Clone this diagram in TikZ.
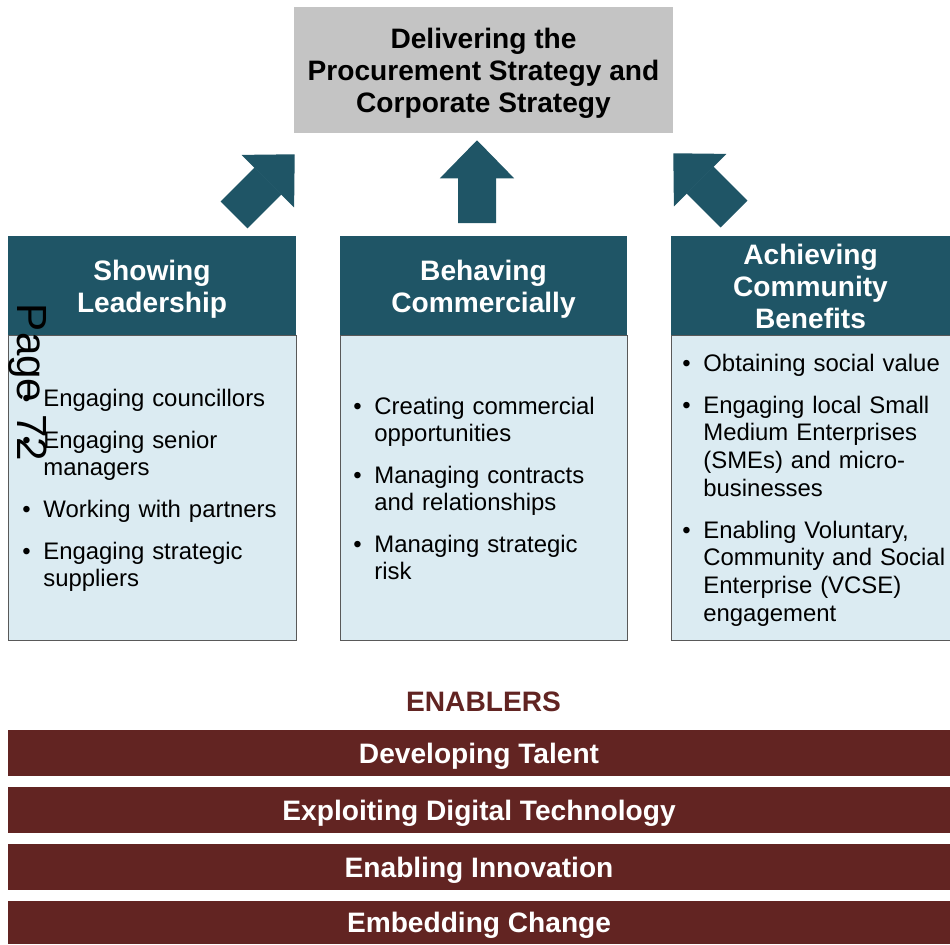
\documentclass[tikz,border=0pt]{standalone}
\usepackage{fontspec}
\setmainfont{Liberation Sans}
\usepackage{xcolor}
\usepackage{tikz}
\usetikzlibrary{positioning, arrows.meta}

\definecolor{headteal}{RGB}{31,85,102}
\definecolor{panelblue}{RGB}{219,235,242}
\definecolor{goalgray}{RGB}{196,196,196}
\definecolor{enablered}{RGB}{98,36,34}

% one bullet point, second line hangs under the text
\newcommand{\bpoint}[1]{\hangindent=15pt\hangafter=1\noindent\makebox[15pt][l]{\textbullet}#1\par}
% extra room above the first line of a centred block
\newcommand{\headroom}[1]{\rule{0pt}{#1}}

\tikzstyle{goal} = [rectangle, minimum width=94.75mm, minimum height=31.5mm, text centered, align=center, fill=goalgray, font=\fontsize{20}{22.8}\selectfont\bfseries]
\tikzstyle{heading} = [rectangle, minimum width=72mm, minimum height=24.75mm, inner sep=0pt, outer sep=0pt, align=center, fill=headteal, text=white, font=\fontsize{20}{22.8}\selectfont\bfseries]
\tikzstyle{panel} = [rectangle, minimum width=72mm, minimum height=76.25mm, inner sep=0pt, outer sep=0pt, fill=panelblue, draw=black!65, line width=0.5pt]
\tikzstyle{points} = [anchor=north west, inner sep=0pt, text width=68mm, align=left, font=\fontsize{17}{19.2}\selectfont\setlength{\parskip}{10.7pt}]
\tikzstyle{enabler} = [rectangle, minimum width=235.5mm, minimum height=11.5mm, inner sep=0pt, outer sep=0pt, text height=14.3pt, text depth=0pt, fill=enablered, text=white, font=\fontsize{20}{24}\selectfont\bfseries]
\tikzstyle{bigarrow} = [draw=headteal, line width=9.5mm, -{Triangle[width=18.5mm, length=9.5mm, line width=1pt]}]

\begin{document}
\begin{tikzpicture}[x=0.25mm, y=-0.25mm]
    \useasboundingbox (0,0) rectangle (950,944);

    % Nodes
    \node (goal) [goal] at (483.5,70) {\headroom{19pt}Delivering the\\Procurement Strategy and\\Corporate Strategy};

    \node (lead-head) [heading, anchor=north west] at (8,236) {\headroom{20.3pt}Showing\\Leadership};
    \node (lead-body) [panel, below=0pt of lead-head] {};
    \node (comm-head) [heading, anchor=north west, minimum width=71.75mm] at (340,236) {\headroom{20.3pt}Behaving\\Commercially};
    \node (comm-body) [panel, below=0pt of comm-head, minimum width=71.75mm] {};
    \node (comb-head) [heading, anchor=north west, minimum width=69.75mm] at (671,236) {\headroom{16pt}Achieving\\Community\\Benefits};
    \node (comb-body) [panel, below=0pt of comb-head, minimum width=69.75mm] {};

    % Bullet lists
    \node (lead-list) [points] at (22,389) {\bpoint{Engaging councillors}\bpoint{Engaging senior\newline managers}\bpoint{Working with partners}\bpoint{Engaging strategic\newline suppliers}};
    \node (comm-list) [points] at (353,397) {\bpoint{Creating commercial\newline opportunities}\bpoint{Managing contracts\newline and relationships}\bpoint{Managing strategic\newline risk}};
    \node (comb-list) [points, text width=66mm, font=\fontsize{17}{19.8}\selectfont\setlength{\parskip}{9.7pt}] at (682,354) {\bpoint{Obtaining social value}\bpoint{Engaging local Small\newline Medium Enterprises\newline (SMEs) and micro-\newline businesses}\bpoint{Enabling Voluntary,\newline Community and Social\newline Enterprise (VCSE)\newline engagement}};

    % Enablers
    \node (enablers) [text=enablered, font=\fontsize{20}{24}\selectfont\bfseries] at (483.5,702) {ENABLERS};
    \node (talent) [enabler, anchor=north west] at (8,730) {Developing Talent};
    \node (digital) [enabler, below=2.75mm of talent] {Exploiting Digital Technology};
    \node (innovation) [enabler, below=2.75mm of digital] {Enabling Innovation};
    \node (change) [enabler, below=2.75mm of innovation, minimum height=10.75mm] {Embedding Change};

    % Arrows
    \draw [bigarrow] ([shift={(-62,-21)}]lead-head.north east) -- ([shift={(1,21)}]goal.south west);
    \draw [bigarrow] ([shift={(-6.5,-13)}]comm-head.north) -- ([shift={(-6.5,7)}]goal.south);
    \draw [bigarrow] ([shift={(63,-22)}]comb-head.north west) -- ([shift={(0,20)}]goal.south east);

    % page number stamp
    \node (page) [rotate=-90, anchor=base, inner sep=0pt, font=\fontsize{30}{30}\selectfont] at (17,382.5) {Page 72};
\end{tikzpicture}
\end{document}
